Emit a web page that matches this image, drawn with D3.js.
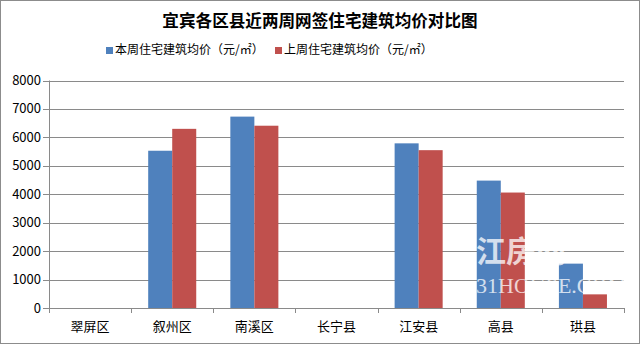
<!DOCTYPE html>
<html>
<head>
<meta charset="utf-8">
<script src="https://cdn.jsdelivr.net/npm/d3@7/dist/d3.min.js"></script>
<style>
  body { margin: 0; background: #fff; }
  text { font-family: "Noto Sans CJK SC", "DejaVu Sans", sans-serif; }
</style>
</head>
<body>
<div id="chart"></div>
<script>
var categories = ["翠屏区", "叙州区", "南溪区", "长宁县", "江安县", "高县", "珙县"];
var seriesNames = ["本周住宅建筑均价（元/㎡）", "上周住宅建筑均价（元/㎡）"];
var thisWeek = [null, 5530, 6730, null, 5790, 4480, 1560];
var lastWeek = [null, 6300, 6410, null, 5550, 4060, 480];
var yTicks = [0, 1000, 2000, 3000, 4000, 5000, 6000, 7000, 8000];
var colors = ["#4F81BD", "#C0504D"];

var W = 640, H = 344;
var margin = {top: 80.5, right: 16, bottom: 36, left: 49};

var svg = d3.select("#chart").append("svg")
	.attr("width", W)
	.attr("height", H);

//outer frame
svg.append("rect")
	.attr("x", 0.5).attr("y", 0.5)
	.attr("width", W - 1).attr("height", H - 1)
	.style("fill", "#fff")
	.style("stroke", "#8c8c8c");

var x0 = d3.scaleBand()
	.domain(categories)
	.range([margin.left, W - margin.right])
	.paddingInner(0).paddingOuter(0);

var x1 = d3.scaleBand()
	.domain([0, 1])
	.range([0, x0.bandwidth()])
	.paddingOuter(0.71).paddingInner(0);

var y = d3.scaleLinear()
	.domain([0, 8000])
	.range([H - margin.bottom, margin.top]);

//gridlines
svg.append("g").selectAll("line")
	.data(yTicks).enter().append("line")
	.attr("x1", margin.left - 6)
	.attr("x2", W - margin.right)
	.attr("y1", function(d) { return Math.round(y(d)) + 0.5; })
	.attr("y2", function(d) { return Math.round(y(d)) + 0.5; })
	.style("stroke", "#8a8a8a")
	.style("stroke-width", 1);

//y labels
svg.append("g").selectAll("text")
	.data(yTicks).enter().append("text")
	.attr("x", margin.left - 8)
	.attr("y", function(d) { return y(d) + 4.5; })
	.style("text-anchor", "end")
	.style("font-size", "13px")
	.style("fill", "#000")
	.text(function(d) { return d; });

//y axis line
svg.append("line")
	.attr("x1", margin.left + 0.5).attr("x2", margin.left + 0.5)
	.attr("y1", y(8000)).attr("y2", y(0))
	.style("stroke", "#8a8a8a");

//bars
var series = [thisWeek, lastWeek];
series.forEach(function(vals, si) {
	svg.append("g").selectAll("rect")
		.data(vals.map(function(v, i) { return {cat: categories[i], v: v}; }).filter(function(d) { return d.v != null; }))
		.enter().append("rect")
		.attr("x", function(d) { return x0(d.cat) + x1(si); })
		.attr("width", x1.bandwidth())
		.attr("y", function(d) { return y(d.v); })
		.attr("height", function(d) { return y(0) - y(d.v); })
		.style("fill", colors[si]);
});

//x tick marks
var bounds = categories.map(function(c) { return x0(c); }).concat([x0.range()[1]]);
svg.append("g").selectAll("line")
	.data(bounds).enter().append("line")
	.attr("x1", function(d) { return Math.round(d) + 0.5; })
	.attr("x2", function(d) { return Math.round(d) + 0.5; })
	.attr("y1", Math.round(y(0)))
	.attr("y2", Math.round(y(0)) + 5)
	.style("stroke", "#8a8a8a");

//x labels
svg.append("g").selectAll("text")
	.data(categories).enter().append("text")
	.attr("x", function(d) { return x0(d) + x0.bandwidth() / 2; })
	.attr("y", 331)
	.style("text-anchor", "middle")
	.style("font-size", "13px")
	.style("fill", "#000")
	.text(function(d) { return d; });

//watermark
var wm = svg.append("g").style("opacity", 0.75);
wm.append("text")
	.attr("x", 476).attr("y", 262)
	.style("font-size", "30px")
	.style("font-weight", "bold")
	.style("fill", "#fff")
	.text("江房网");
wm.append("text")
	.attr("x", 476).attr("y", 293)
	.style("font-size", "22px")
	.style("font-family", "Liberation Serif, serif")
	.style("fill", "#fff")
	.text("31HOUSE.COM");

//title
svg.append("text")
	.attr("x", 320).attr("y", 27)
	.style("text-anchor", "middle")
	.style("font-size", "16.6px")
	.style("font-weight", "bold")
	.style("fill", "#000")
	.text("宜宾各区县近两周网签住宅建筑均价对比图");

//legend
var legendX = [106, 275];
seriesNames.forEach(function(name, i) {
	svg.append("rect")
		.attr("x", legendX[i]).attr("y", 47)
		.attr("width", 7).attr("height", 7)
		.style("fill", colors[i]);
	svg.append("text")
		.attr("x", legendX[i] + 9).attr("y", 54)
		.style("font-size", "12px")
		.style("fill", "#000")
		.text(name);
});
</script>
</body>
</html>
